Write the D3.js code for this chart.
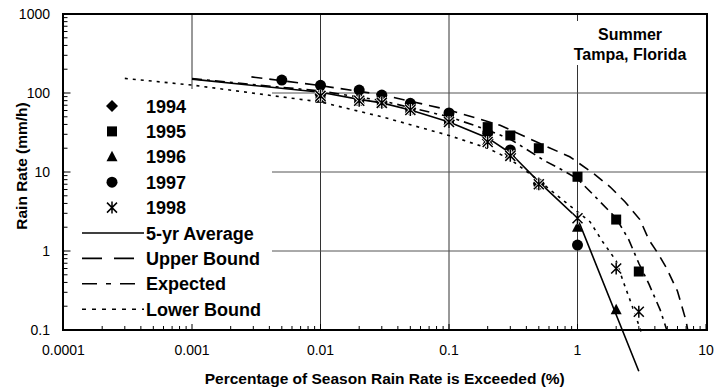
<!DOCTYPE html>
<html><head><meta charset="utf-8">
<script src="https://cdn.jsdelivr.net/npm/d3@7"></script>
<style>body{margin:0;background:#fff}svg{display:block}text{font-family:"Liberation Sans",Arial,sans-serif}</style>
</head><body><div id="c"></div>
<script>
// ---- data ----
const xTicks = [0.0001, 0.001, 0.01, 0.1, 1, 10];
const xTickLabels = ["0.0001", "0.001", "0.01", "0.1", "1", "10"];
const yTicks = [0.1, 1, 10, 100, 1000];
const yTickLabels = ["0.1", "1", "10", "100", "1000"];
const years = ["1994", "1995", "1996", "1997", "1998"];
const yr1994 = [[0.01,95],[0.02,85],[0.03,77],[0.05,63],[0.1,45],[0.2,26],[0.3,17],[0.5,7.2]];
const yr1995 = [[0.01,87],[0.02,80],[0.03,76],[0.05,62],[0.1,46],[0.2,37],[0.3,29],[0.5,20],[1,8.7],[2,2.5],[3,0.55]];
const yr1996 = [[0.01,90],[0.02,82],[0.03,75],[0.05,62],[0.1,45],[0.2,25],[0.3,17],[0.5,7],[1,2.0],[2,0.18]];
const yr1997 = [[0.005,146],[0.01,125],[0.02,109],[0.03,94],[0.05,74],[0.1,56],[0.2,31],[0.3,19],[0.5,7],[1,1.19]];
const yr1998 = [[0.01,92],[0.02,80],[0.03,75],[0.05,61],[0.1,43],[0.2,24],[0.3,16],[0.5,7],[1,2.6],[2,0.6],[3,0.17]];
const avg5yr = [[0.001,150],[0.01,102],[0.02,83],[0.03,75],[0.05,61],[0.1,43],[0.2,27],[0.3,17.4],[0.5,7.5],[1,2.6],[3,0.03]];
const upperBound = [[0.0029,160],[0.01,124],[0.03,95],[0.1,61],[0.25,39],[0.54,22],[0.87,15.6],[1.32,9.7],[1.79,6.5],[2.34,4.2],[3.06,2.5],[3.6,1.38],[4.2,0.95],[4.9,0.62],[6,0.31],[7,0.13],[7.2,0.1]];
const expected = [[0.001,152],[0.01,106],[0.03,80],[0.1,50],[0.2,34],[0.3,26],[0.55,14],[0.73,11],[1,8.2],[1.32,5.2],[2,2.6],[2.5,1.4],[3,0.7],[3.6,0.38],[4.4,0.18],[4.95,0.1]];
const lowerBound = [[0.0003,153],[0.001,126],[0.01,77],[0.03,50],[0.1,29],[0.2,20],[0.3,14.5],[0.5,7.8],[0.77,4.4],[1.25,2.35],[1.57,1.31],[2.0,0.75],[2.27,0.41],[2.64,0.21],[3.2,0.085]];
const lineNames = ["5-yr Average", "Upper Bound", "Expected", "Lower Bound"];
const titleLines = ["Summer", "Tampa, Florida"];

// ---- layout ----
const W = 717, H = 389;
const L = 63.5, R = 706, T = 14, B = 330;
const svg = d3.select("#c").append("svg").attr("width", W).attr("height", H);
const x = d3.scaleLog().domain([1e-4, 10]).range([L, R]);
const y = d3.scaleLog().domain([0.1, 1000]).range([B, T]);

// gridlines
const g = svg.append("g");
xTicks.slice(1, -1).forEach(v => g.append("line").attr("x1", x(v)).attr("x2", x(v)).attr("y1", T).attr("y2", B).attr("stroke", "#333").attr("stroke-width", 1));
yTicks.slice(1, -1).forEach(v => g.append("line").attr("x1", L).attr("x2", R).attr("y1", y(v)).attr("y2", y(v)).attr("stroke", "#555").attr("stroke-width", 1));

// white boxes (legend, title)
svg.append("rect").attr("x", L + 1).attr("y", 89).attr("width", 272 - L - 1).attr("height", B - 89).attr("fill", "#fff");
svg.append("rect").attr("x", 575).attr("y", 21).attr("width", R - 576).attr("height", 44).attr("fill", "#fff");

// minor ticks (inward)
const minorX = [], minorY = [];
for (let e = -4; e < 1; e++) for (let k = 2; k <= 9; k++) minorX.push(k * Math.pow(10, e));
for (let e = -1; e < 3; e++) for (let k = 2; k <= 9; k++) minorY.push(k * Math.pow(10, e));
minorX.forEach(v => svg.append("line").attr("x1", x(v)).attr("x2", x(v)).attr("y1", B).attr("y2", B - 4).attr("stroke", "#000"));
xTicks.forEach(v => svg.append("line").attr("x1", x(v)).attr("x2", x(v)).attr("y1", B).attr("y2", B - 6).attr("stroke", "#000"));
minorY.forEach(v => svg.append("line").attr("x1", L).attr("x2", L + 4).attr("y1", y(v)).attr("y2", y(v)).attr("stroke", "#000"));
yTicks.forEach(v => svg.append("line").attr("x1", L).attr("x2", L + 7).attr("y1", y(v)).attr("y2", y(v)).attr("stroke", "#000"));

// tick labels
xTicks.forEach((v, i) => svg.append("text").attr("x", x(v)).attr("y", 355).attr("text-anchor", "middle").attr("font-size", 14).text(xTickLabels[i]));
yTicks.forEach((v, i) => svg.append("text").attr("x", 50).attr("y", y(v) + 5).attr("text-anchor", "end").attr("font-size", 14).text(yTickLabels[i]));

// axis titles
svg.append("text").attr("transform", "translate(27,166) rotate(-90)").attr("text-anchor", "middle").attr("font-size", 15.5).attr("font-weight", "bold").text("Rain Rate (mm/h)");
svg.append("text").attr("x", (L + R) / 2).attr("y", 384).attr("text-anchor", "middle").attr("font-size", 15.5).attr("font-weight", "bold").text("Percentage of Season Rain Rate is Exceeded (%)");

// curves
const line = d3.line().x(d => x(d[0])).y(d => y(d[1]));
const curveStyles = [
  {data: avg5yr, dash: null, legDash: null},
  {data: upperBound, dash: "11,7", legDash: "20,12"},
  {data: expected, dash: "10,5,3,5", legDash: "15,9,5,9"},
  {data: lowerBound, dash: "3,5", legDash: "4,6"}
];
curveStyles.forEach(c => svg.append("path").attr("d", line(c.data)).attr("fill", "none").attr("stroke", "#000").attr("stroke-width", 1.6).attr("stroke-dasharray", c.dash));

// markers
function drawMarker(sel, type, cx, cy) {
  if (type === "diamond") sel.append("path").attr("d", `M${cx},${cy-6}L${cx+6},${cy}L${cx},${cy+6}L${cx-6},${cy}Z`).attr("fill", "#000");
  else if (type === "square") sel.append("rect").attr("x", cx - 5).attr("y", cy - 5).attr("width", 10).attr("height", 10).attr("fill", "#000");
  else if (type === "triangle") sel.append("path").attr("d", `M${cx},${cy-6}L${cx+5.5},${cy+4.5}L${cx-5.5},${cy+4.5}Z`).attr("fill", "#000");
  else if (type === "circle") sel.append("circle").attr("cx", cx).attr("cy", cy).attr("r", 5.5).attr("fill", "#000");
  else if (type === "asterisk") {
    const p = `M${cx-5},${cy-5}L${cx+5},${cy+5}M${cx+5},${cy-5}L${cx-5},${cy+5}M${cx},${cy-6}L${cx},${cy+6}`;
    sel.append("path").attr("d", p).attr("stroke", "#fff").attr("stroke-width", 3);
    sel.append("path").attr("d", p).attr("stroke", "#000").attr("stroke-width", 1.5);
  }
}
const markerTypes = ["diamond", "square", "triangle", "circle", "asterisk"];
const seriesData = [yr1994, yr1995, yr1996, yr1997, yr1998];
const mg = svg.append("g");
seriesData.forEach((s, i) => s.forEach(d => drawMarker(mg, markerTypes[i], x(d[0]), y(d[1]))));

// legend
const lg = svg.append("g");
const rowY = k => 106 + 25.4 * k;
years.forEach((yr, i) => {
  drawMarker(lg, markerTypes[i], 112, rowY(i));
  lg.append("text").attr("x", 146).attr("y", rowY(i) + 6.5).attr("font-size", 18).attr("font-weight", "bold").text(yr);
});
lineNames.forEach((n, j) => {
  const yy = rowY(5 + j);
  lg.append("line").attr("x1", 82).attr("x2", 144).attr("y1", yy).attr("y2", yy).attr("stroke", "#000").attr("stroke-width", 1.6).attr("stroke-dasharray", curveStyles[j].legDash);
  lg.append("text").attr("x", 146).attr("y", yy + 6.5).attr("font-size", 18).attr("font-weight", "bold").text(n);
});

// title text
titleLines.forEach((t, i) => svg.append("text").attr("x", 630).attr("y", 39.5 + 20.5 * i).attr("text-anchor", "middle").attr("font-size", 16).attr("font-weight", "bold").text(t));

// frame
svg.append("rect").attr("x", L - 0.5).attr("y", T).attr("width", R - L + 1.5).attr("height", B - T).attr("fill", "none").attr("stroke", "#000").attr("stroke-width", 2);
</script>
</body></html>
